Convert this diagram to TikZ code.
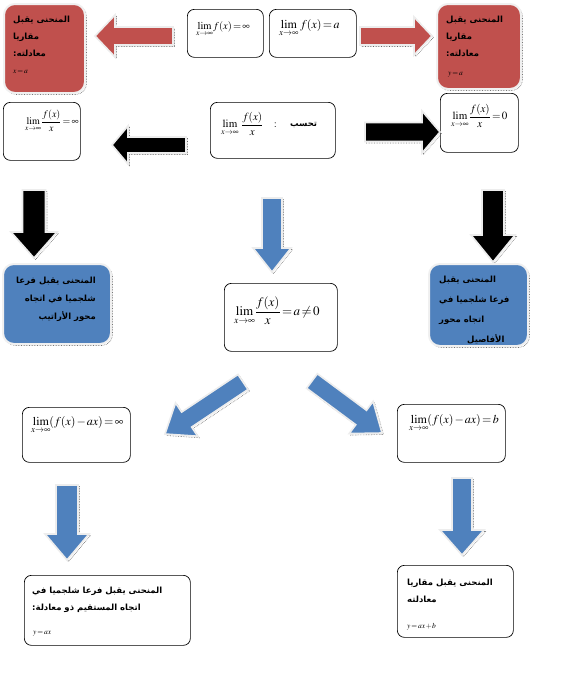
\documentclass[tikz,border=0pt]{standalone}
\usepackage{amsmath}
\usepackage{mathptmx}
\usepackage{fontspec}
\newfontfamily\arabicfont[Script=Arabic]{DejaVu Sans}
\TeXXeTstate=1
\usetikzlibrary{calc, positioning, shadows}

\definecolor{boxred}{HTML}{C0504D}
\definecolor{boxblue}{HTML}{4F81BD}

% espacement serre dans les formules
\thickmuskip=2mu plus 1mu
\medmuskip=1.5mu plus 1mu

% block arrow: style, tail, tip, body half width, head half width, head length
\newcommand{\blockarrow}[6]{%
  \coordinate (hb) at ($(#3)!#6!(#2)$);
  \draw[#1] ($(#2)!#4!90:(#3)$) -- ($(hb)!#4!90:(#3)$) -- ($(hb)!#5!90:(#3)$) -- (#3)
    -- ($(hb)!#5!-90:(#3)$) -- ($(hb)!#4!-90:(#3)$) -- ($(#2)!#4!-90:(#3)$) -- cycle;}

\tikzset{
  dotshadow/.style={general shadow={draw=black!60, densely dotted, line width=0.6pt,
      shadow xshift=1.5pt, shadow yshift=-1.5pt}},
  mathbox/.style={draw, rounded corners=7pt, line width=0.7pt, fill=white,
    anchor=north west, inner sep=0pt},
  colbox/.style={draw=black!6, line width=2pt, rounded corners=11pt,
    anchor=north west, inner sep=0pt, dotshadow},
  redbox/.style={colbox, fill=boxred},
  bluebox/.style={colbox, fill=boxblue},
  artxt/.style={font=\arabicfont\bfseries\fontsize{8.5}{17}\selectfont,
    align=left, anchor=north west, inner sep=0pt},
  mtxt/.style={font=\fontsize{11}{12}\selectfont, anchor=north west, inner sep=0pt},
  stxt/.style={font=\fontsize{7.5}{8}\selectfont, anchor=north west, inner sep=0pt},
  arrowbase/.style={draw=black!7, line width=1.6pt, dotshadow},
  redarrow/.style={arrowbase, fill=boxred},
  blackarrow/.style={arrowbase, fill=black},
  bluearrow/.style={arrowbase, fill=boxblue},
}

\begin{document}
\begin{tikzpicture}[x=1pt, y=-1pt]
  \fill[white] (0,0) rectangle (562,697);
  \useasboundingbox (0,0) rectangle (562,697);

  % === LIGNE 1 ===
  \node[redbox, minimum width=81pt, minimum height=89pt] (redL) at (3,3) {};
  \node[artxt] (redLt) at ($(redL.north west)+(10,13)$)
    {\beginR المنحنى يقبل\endR\\ \beginR مقاريا\endR\\ \beginR معادلته:\endR};
  \node[stxt] (redLm) at ($(redL.north west)+(10,67)$) {$x=a$};

  \node[redbox, minimum width=84pt, minimum height=85pt] (redR) at (436,3) {};
  \node[artxt] (redRt) at ($(redR.north west)+(10,13)$)
    {\beginR المنحنى يقبل\endR\\ \beginR مقاريا\endR\\ \beginR معادلته:\endR};
  \node[stxt] (redRm) at ($(redR.north west)+(12,69)$) {$y=a$};

  \node[mathbox, minimum width=76pt, minimum height=48pt] (limInf) at (187,9) {};
  \node[mtxt, font=\fontsize{10.5}{11}\selectfont] (limInfm) at ($(limInf.north west)+(9,12)$)
    {$\displaystyle\lim_{x\to\infty}\! f(x)=\infty$};
  \node[mathbox, minimum width=87pt, minimum height=48pt] (limA) at (269,9) {};
  \node[mtxt, font=\fontsize{12}{13}\selectfont] (limAm) at ($(limA.north west)+(10,10)$)
    {$\displaystyle\lim_{x\to\infty} f(x)=a$};

  \coordinate (raL-s) at (173,36); \coordinate (raL-e) at (95,36);
  \blockarrow{redarrow}{raL-s}{raL-e}{9pt}{21pt}{20pt}
  \coordinate (raR-s) at (360,36); \coordinate (raR-e) at (432,36);
  \blockarrow{redarrow}{raR-s}{raR-e}{9pt}{19pt}{18pt}

  % === LIGNE 2 ===
  \node[mathbox, minimum width=77pt, minimum height=58pt] (fxInf) at (3,102) {};
  \node[mtxt, font=\fontsize{10}{11}\selectfont] (fxInfm) at ($(fxInf.north west)+(22,8)$)
    {$\displaystyle\lim_{x\to\infty}\!\frac{f(x)}{x}=\infty$};
  \node[mathbox, minimum width=125pt, minimum height=56pt] (calc) at (210,102) {};
  \node[mtxt] (calcm) at ($(calc.north west)+(11,10)$)
    {$\displaystyle\lim_{x\to\infty}\;\frac{f(x)}{x}$};
  \node[font=\fontsize{11}{11}\selectfont, right=10pt of calcm.east, anchor=west, inner sep=0pt, yshift=-1pt] (calcc) {:};
  \node[font=\arabicfont\bfseries\fontsize{8.5}{10}\selectfont, right=13pt of calcc.east, anchor=west, inner sep=0pt] (calct) {\beginR تحسب\endR};
  \node[mathbox, minimum width=78pt, minimum height=59pt] (fxZero) at (440,93) {};
  \node[mtxt] (fxZerom) at ($(fxZero.north west)+(11,11)$)
    {$\displaystyle\lim_{x\to\infty}\!\frac{f(x)}{x}=0$};

  \coordinate (baL-s) at (186,145); \coordinate (baL-e) at (112,145);
  \blockarrow{blackarrow}{baL-s}{baL-e}{8pt}{19pt}{16pt}
  \coordinate (baR-s) at (365,132); \coordinate (baR-e) at (440,132);
  \blockarrow{blackarrow}{baR-s}{baR-e}{9.5pt}{21pt}{18pt}

  % === LIGNE 3 ===
  \coordinate (bdL-s) at (34,190); \coordinate (bdL-e) at (34,258);
  \blockarrow{blackarrow}{bdL-s}{bdL-e}{11.5pt}{23pt}{26pt}
  \coordinate (udC-s) at (272,198); \coordinate (udC-e) at (272,272);
  \blockarrow{bluearrow}{udC-s}{udC-e}{10pt}{19pt}{24pt}
  \coordinate (bdR-s) at (493,190); \coordinate (bdR-e) at (493,262);
  \blockarrow{blackarrow}{bdR-s}{bdR-e}{11pt}{22pt}{27pt}

  \node[bluebox, minimum width=108pt, minimum height=80pt] (blueL) at (2,263) {};
  \node[artxt, align=right, anchor=north east, font=\arabicfont\bfseries\fontsize{8.5}{18}\selectfont]
    (blueLt) at ($(blueL.north west)+(94,14)$)
    {\beginR المنحنى يقبل فرعا\endR\\ \beginR شلجميا في اتجاه\endR\\ \beginR محور الأراتيب\endR};
  \node[bluebox, minimum width=99pt, minimum height=82pt] (blueR) at (428,263) {};
  \node[artxt, font=\arabicfont\bfseries\fontsize{8.5}{20}\selectfont]
    (blueRt) at ($(blueR.north west)+(11,13)$)
    {\beginR المنحنى يقبل\endR\\ \beginR فرعا شلجميا في\endR\\ \beginR اتجاه محور\endR\\
     \hspace*{28pt}\beginR الأفاصيل\endR};

  \node[mathbox, minimum width=113pt, minimum height=68pt] (fxA) at (224,283) {};
  \node[mtxt, font=\fontsize{13}{14}\selectfont] (fxAm) at ($(fxA.north west)+(10,14)$)
    {$\displaystyle\lim_{x\to\infty}\!\frac{f(x)}{x}=a\neq 0$};

  % === LIGNE 4 ===
  \coordinate (dgL-s) at (243,382); \coordinate (dgL-e) at (165,434);
  \blockarrow{bluearrow}{dgL-s}{dgL-e}{9pt}{20pt}{26pt}
  \coordinate (dgR-s) at (312,381); \coordinate (dgR-e) at (382,433);
  \blockarrow{bluearrow}{dgR-s}{dgR-e}{9pt}{20pt}{26pt}

  \node[mathbox, minimum width=108pt, minimum height=55pt] (axInf) at (22,407) {};
  \node[mtxt, font=\fontsize{12}{13}\selectfont] (axInfm) at ($(axInf.north west)+(9,9)$)
    {$\displaystyle\lim_{x\to\infty}\!(f(x)-ax)=\infty$};
  \node[mathbox, minimum width=108pt, minimum height=58pt] (axB) at (397,404) {};
  \node[mtxt, font=\fontsize{12}{13}\selectfont] (axBm) at ($(axB.north west)+(12,10)$)
    {$\displaystyle\lim_{x\to\infty}\!(f(x)-ax)=b$};

  % === LIGNE 5 ===
  \coordinate (udL-s) at (67,485); \coordinate (udL-e) at (67,560);
  \blockarrow{bluearrow}{udL-s}{udL-e}{11pt}{22pt}{26pt}
  \coordinate (udR-s) at (462,478); \coordinate (udR-e) at (462,555);
  \blockarrow{bluearrow}{udR-s}{udR-e}{10pt}{22pt}{25pt}

  \node[mathbox, minimum width=166pt, minimum height=70pt] (outL) at (24,575) {};
  \node[artxt] (outLt) at ($(outL.north west)+(8,12)$)
    {\beginR المنحنى يقبل فرعا شلجميا في\endR\\ \beginR اتجاه المستقيم ذو معادلة:\endR};
  \node[stxt] (outLm) at ($(outL.north west)+(9,56)$) {$y=ax$};
  \node[mathbox, minimum width=116pt, minimum height=72pt] (outR) at (397,565) {};
  \node[artxt] (outRt) at ($(outR.north west)+(10,14)$)
    {\beginR المنحنى يقبل مقاريا\endR\\ \beginR معادلته\endR};
  \node[stxt] (outRm) at ($(outR.north west)+(10,58)$) {$y=ax+b$};
\end{tikzpicture}
\end{document}
